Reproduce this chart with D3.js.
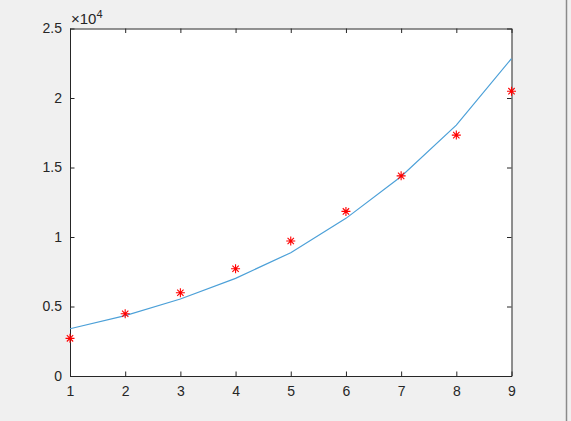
<!DOCTYPE html>
<html>
<head>
<meta charset="utf-8">
<script src="https://cdn.jsdelivr.net/npm/d3@7"></script>
<style>
  body { margin: 0; background: #f0f0f0; }
  svg { display: block; font-family: "Liberation Sans", Arial, sans-serif; }
</style>
</head>
<body>
<svg id="chart" width="571" height="421"></svg>
<script>
// values
const xs = [1, 2, 3, 4, 5, 6, 7, 8, 9];
const measured = [2710, 4480, 5990, 7715, 9710, 11840, 14400, 17330, 20490];
const fitted = [3400, 4340, 5540, 7025, 8870, 11340, 14350, 18050, 22840];
const yTicks = [0, 5000, 10000, 15000, 20000, 25000];
const yTickLabels = ['0', '0.5', '1', '1.5', '2', '2.5'];

const svg = d3.select('#chart');
const margin = {left: 70, right: 59.5, top: 28.5, bottom: 45};
const width = +svg.attr('width'), height = +svg.attr('height');

const x = d3.scaleLinear().domain([1, 9]).range([margin.left, width - margin.right]);
const y = d3.scaleLinear().domain([0, 25000]).range([height - margin.bottom, margin.top]);

// window border on the right
svg.append('line')
  .attr('x1', 566.5).attr('x2', 566.5).attr('y1', 0).attr('y2', height)
  .attr('stroke', '#8a8a8a').attr('stroke-width', 1.5);

svg.append('rect')
  .attr('x', x(1)).attr('y', y(25000))
  .attr('width', x(9) - x(1)).attr('height', y(0) - y(25000))
  .attr('fill', '#fff');

const tickColor = '#262626';
const tickLen = 4.5;

// bottom & top axes
const xBottom = svg.append('g')
  .attr('transform', `translate(0,${y(0)})`)
  .call(d3.axisBottom(x).tickValues(xs).tickSizeInner(-tickLen).tickSizeOuter(0).tickPadding(10).tickFormat(d3.format('d')));
const xTop = svg.append('g')
  .attr('transform', `translate(0,${y(25000)})`)
  .call(d3.axisTop(x).tickValues(xs).tickSizeInner(-tickLen).tickSizeOuter(0).tickFormat(''));

const yLeft = svg.append('g')
  .attr('transform', `translate(${x(1)},0)`)
  .call(d3.axisLeft(y).tickValues(yTicks).tickSizeInner(-tickLen).tickSizeOuter(0).tickPadding(8)
    .tickFormat((d, i) => yTickLabels[i]));
const yRight = svg.append('g')
  .attr('transform', `translate(${x(9)},0)`)
  .call(d3.axisRight(y).tickValues(yTicks).tickSizeInner(-tickLen).tickSizeOuter(0).tickFormat(''));

[xBottom, xTop, yLeft, yRight].forEach(g => {
  g.select('.domain').attr('stroke', tickColor).attr('stroke-width', 1);
  g.selectAll('.tick line').attr('stroke', tickColor).attr('stroke-width', 1);
  g.selectAll('.tick text').attr('fill', tickColor).style('font-size', '14px');
});

// exponent label
const expo = svg.append('text')
  .attr('x', x(1) + 1).attr('y', y(25000) - 4.5)
  .attr('fill', tickColor).style('font-size', '15px');
expo.append('tspan').text('\u00d710');
expo.append('tspan').attr('dy', -6).style('font-size', '11px').text('4');

// fitted curve
const line = d3.line().x((d, i) => x(xs[i])).y(d => y(d));
svg.append('path')
  .datum(fitted)
  .attr('d', line)
  .attr('fill', 'none')
  .attr('stroke', '#4ca0d8')
  .attr('stroke-width', 1.2);

// measured points as asterisks
const star = d3.symbol().type({
  draw(ctx, size) {
    const r = Math.sqrt(size) / 2;
    const a = r * Math.SQRT1_2;
    ctx.moveTo(-r, 0); ctx.lineTo(r, 0);
    ctx.moveTo(0, -r); ctx.lineTo(0, r);
    ctx.moveTo(-a, -a); ctx.lineTo(a, a);
    ctx.moveTo(-a, a); ctx.lineTo(a, -a);
  }
}).size(81);

svg.append('g')
  .selectAll('path')
  .data(measured)
  .enter()
  .append('path')
  .attr('transform', (d, i) => `translate(${x(xs[i])},${y(d)})`)
  .attr('d', star)
  .attr('fill', 'none')
  .attr('stroke', '#ff0000')
  .attr('stroke-width', 1.1);
</script>
</body>
</html>
